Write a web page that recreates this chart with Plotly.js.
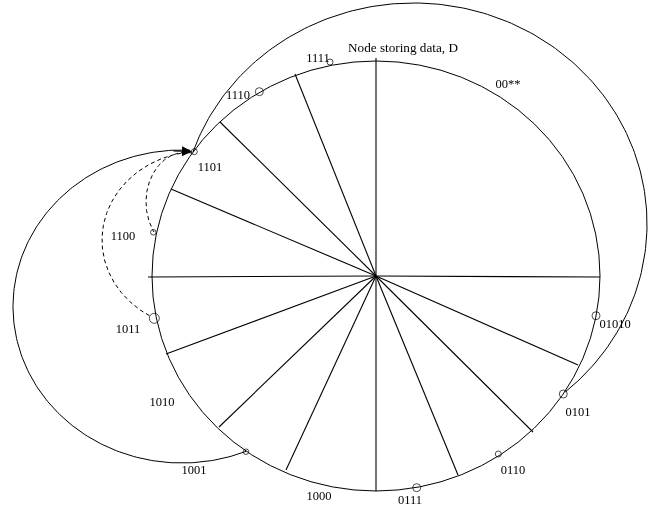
<!DOCTYPE html>
<html>
<head>
<meta charset="utf-8">
<script src="https://cdn.plot.ly/plotly-3.0.1.min.js"></script>
<style>
html,body{margin:0;padding:0;background:#fff;}
#chart{width:654px;height:510px;will-change:transform;-webkit-font-smoothing:antialiased;}
#chart text{-webkit-font-smoothing:antialiased;}
</style>
</head>
<body>
<div id="chart"></div>
<script>
// ---- Diagram data (picture coordinates, y grows downward) ----
const hubX = 376, hubY = 276;
const spokeEndX = [376, 295, 220, 171, 148, 166, 219, 286, 376, 458, 533, 578, 600];
const spokeEndY = [ 58,  74, 122, 189, 277, 354, 427, 470, 491, 475, 432, 365, 277];

// ring ellipse: cx, cy, rx, ry
const ring = [376, 276, 224, 215];
// arcs: cx, cy, rx, ry, start angle, end angle (deg), dash
const arcCx    = [413.6, 182,   185.4, 201.5];
const arcCy    = [224,   306.5, 202,   240];
const arcRx    = [233.4, 169,   39.4,  99.5];
const arcRy    = [221,   156.5, 49.7,  88.8];
const arcStart = [-161,  -87.3, -80.4, -97.8];
const arcEnd   = [49.5,  -292.3, -217.2, -238.8];
const arcDash  = ['solid', 'solid', 'dash', 'dash'];

const nodeX    = [330, 259.3, 194.3, 153.3, 154.3, 246, 416.7, 498.3, 563.3, 596];
const nodeY    = [62, 91.7, 151.7, 232.3, 318.3, 451.7, 487.7, 454, 394, 315.7];
const nodeSize = [6, 8, 6, 5.5, 10, 5.5, 8, 6, 8, 8];

const titleText = ['Node storing data, D'];
const titleX = [403], titleY = [49];
const labelText = ['00**', '1111', '1110', '1101', '1100', '1011', '1010', '1001', '1000', '0111', '0110', '0101', '01010'];
const labelX    = [508, 318, 238, 210, 123, 128, 162, 194, 319, 410, 513, 578, 615];
const labelY    = [85, 59, 96, 168, 237, 330, 403, 471, 497, 501, 471, 413, 325];

// ---- build traces ----
const traces = [];
// spokes
const sx = [], sy = [];
for (let i = 0; i < spokeEndX.length; i++) {
  sx.push(hubX, spokeEndX[i], null);
  sy.push(hubY, spokeEndY[i], null);
}
traces.push({x: sx, y: sy, mode: 'lines', line: {color: '#000', width: 1.1}, hoverinfo: 'skip'});

// arcs
for (let k = 0; k < arcCx.length; k++) {
  const ax = [], ay = [];
  const n = 200;
  for (let j = 0; j <= n; j++) {
    const t = (arcStart[k] + (arcEnd[k] - arcStart[k]) * j / n) * Math.PI / 180;
    ax.push(arcCx[k] + arcRx[k] * Math.cos(t));
    ay.push(arcCy[k] + arcRy[k] * Math.sin(t));
  }
  traces.push({x: ax, y: ay, mode: 'lines', line: {color: '#000', width: 1, dash: arcDash[k] === 'dash' ? '4px,3px' : 'solid'}, hoverinfo: 'skip'});
}

// nodes
traces.push({x: nodeX, y: nodeY, mode: 'markers',
  marker: {symbol: 'circle-open', size: nodeSize, color: '#000', line: {width: 1, color: '#000'}}, hoverinfo: 'skip'});

// labels
const serif = 'Liberation Serif, Times New Roman, serif';
traces.push({x: labelX, y: labelY, mode: 'text', text: labelText,
  textfont: {family: serif, size: 12.5, color: '#000'}, hoverinfo: 'skip'});
traces.push({x: titleX, y: titleY, mode: 'text', text: titleText,
  textfont: {family: serif, size: 13.2, color: '#000'}, hoverinfo: 'skip'});

const layout = {
  width: 654, height: 510,
  margin: {l: 0, r: 0, t: 0, b: 0, pad: 0},
  paper_bgcolor: '#fff', plot_bgcolor: '#fff',
  showlegend: false,
  xaxis: {range: [0, 654], visible: false, fixedrange: true},
  yaxis: {range: [510, 0], visible: false, fixedrange: true},
  shapes: [{type: 'circle', xref: 'x', yref: 'y',
    x0: ring[0] - ring[2], x1: ring[0] + ring[2], y0: ring[1] - ring[3], y1: ring[1] + ring[3],
    line: {color: '#000', width: 1}}],
  annotations: [{x: 192, y: 151.5, ax: 172, ay: 151, xref: 'x', yref: 'y', axref: 'x', ayref: 'y',
    text: '', showarrow: true, arrowhead: 2, arrowsize: 2, arrowwidth: 1, arrowcolor: '#000', standoff: 0}]
};

Plotly.newPlot('chart', traces, layout, {staticPlot: true, displayModeBar: false});
</script>
</body>
</html>
